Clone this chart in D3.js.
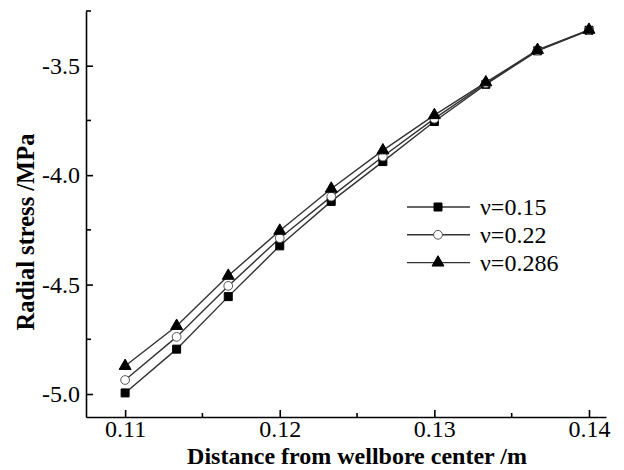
<!DOCTYPE html>
<html>
<head>
<meta charset="utf-8">
<script src="https://d3js.org/d3.v7.min.js"></script>
<style>
  body { margin: 0; background: #fff; }
  text { font-family: "Liberation Serif", "Times New Roman", serif; fill: #000; }
</style>
</head>
<body>
<div id="chart"></div>
<script>
var svgWidth = 624;
var svgHeight = 470;

var margin = { top: 11, right: 18, bottom: 53, left: 86 };
var width = svgWidth - margin.left - margin.right;
var height = svgHeight - margin.top - margin.bottom;

// data
var distance = [0.11, 0.11333, 0.11667, 0.12, 0.12333, 0.12667, 0.13, 0.13333, 0.13667, 0.14];
var stress015 = [-4.995, -4.795, -4.555, -4.323, -4.120, -3.938, -3.755, -3.585, -3.432, -3.338];
var stress022 = [-4.936, -4.739, -4.506, -4.288, -4.098, -3.915, -3.742, -3.580, -3.430, -3.337];
var stress0286 = [-4.872, -4.689, -4.460, -4.254, -4.062, -3.887, -3.726, -3.576, -3.428, -3.336];
var seriesNames = ["\u03bd=0.15", "\u03bd=0.22", "\u03bd=0.286"];
var xTicks = [0.11, 0.12, 0.13, 0.14];
var xMinor = [0.115, 0.125, 0.135];
var yTicks = [-5.0, -4.5, -4.0, -3.5];
var yMinor = [-4.75, -4.25, -3.75, -3.25];

var series = [
  { name: seriesNames[0], values: stress015, marker: "square" },
  { name: seriesNames[1], values: stress022, marker: "circle" },
  { name: seriesNames[2], values: stress0286, marker: "triangle" }
];

var svg = d3.select("#chart")
  .append("svg")
  .attr("width", svgWidth)
  .attr("height", svgHeight);

var chartGroup = svg.append("g")
  .attr("transform", `translate(${margin.left}, ${margin.top})`);

var xScale = d3.scaleLinear()
  .domain([0.10747, 0.1411])
  .range([0, width]);

var yScale = d3.scaleLinear()
  .domain([-5.105, -3.25])
  .range([height, 0]);

// axes, ticks pointing inward
var bottomAxis = d3.axisBottom(xScale)
  .tickValues(xTicks)
  .tickSizeInner(-7)
  .tickSizeOuter(0)
  .tickPadding(3)
  .tickFormat(d3.format(".2f"));

var leftAxis = d3.axisLeft(yScale)
  .tickValues(yTicks)
  .tickSizeInner(-7)
  .tickSizeOuter(0)
  .tickPadding(6)
  .tickFormat(d => d3.format(".1f")(d).replace("\u2212", "-"));

var xAxis = chartGroup.append("g")
  .attr("transform", `translate(0, ${height})`)
  .call(bottomAxis);

var yAxis = chartGroup.append("g")
  .call(leftAxis);

// minor ticks
xAxis.selectAll("line.minor")
  .data(xMinor)
  .enter()
  .append("line")
  .attr("class", "minor")
  .attr("x1", d => xScale(d))
  .attr("x2", d => xScale(d))
  .attr("y1", 0)
  .attr("y2", -4);

yAxis.selectAll("line.minor")
  .data(yMinor)
  .enter()
  .append("line")
  .attr("class", "minor")
  .attr("x1", 0)
  .attr("x2", 5)
  .attr("y1", d => yScale(d))
  .attr("y2", d => yScale(d));

chartGroup.selectAll(".domain, .tick line, line.minor")
  .attr("stroke", "#000")
  .attr("stroke-width", 1.6);

chartGroup.selectAll(".tick text")
  .style("font-size", "24px");

// marker drawing
var symbolFor = {
  square: d3.symbol().type(d3.symbolSquare).size(64),
  circle: d3.symbol().type(d3.symbolCircle).size(60),
  triangle: d3.symbol().type(d3.symbolTriangle).size(62)
};

function drawMarker(g, type) {
  g.append("path")
    .attr("d", symbolFor[type]())
    .attr("fill", type === "circle" ? "#fff" : "#000")
    .attr("stroke", type === "circle" ? "#555" : "#000")
    .attr("stroke-width", 1);
}

var line = d3.line()
  .x((d, i) => xScale(distance[i]))
  .y(d => yScale(d));

series.forEach(function(s) {
  chartGroup.append("path")
    .datum(s.values)
    .attr("fill", "none")
    .attr("stroke", "#333")
    .attr("stroke-width", 1.4)
    .attr("d", line);
});

series.forEach(function(s) {
  chartGroup.selectAll("g.m-" + s.marker)
    .data(s.values)
    .enter()
    .append("g")
    .attr("class", "m-" + s.marker)
    .attr("transform", (d, i) => `translate(${xScale(distance[i])}, ${yScale(d)})`)
    .each(function() { drawMarker(d3.select(this), s.marker); });
});

// legend
var legend = svg.append("g")
  .attr("transform", "translate(407, 207)");

series.forEach(function(s, i) {
  var row = legend.append("g")
    .attr("transform", `translate(0, ${i * 27.8})`);
  row.append("line")
    .attr("x1", 0)
    .attr("x2", 63)
    .attr("stroke", "#333")
    .attr("stroke-width", 1.4);
  drawMarker(row.append("g").attr("transform", "translate(31, 0)"), s.marker);
  row.append("text")
    .attr("x", 73)
    .attr("dy", "0.35em")
    .style("font-size", "24px")
    .text(s.name);
});

// axis titles
svg.append("text")
  .attr("x", 357)
  .attr("y", 464)
  .attr("text-anchor", "middle")
  .style("font-size", "24px")
  .style("font-weight", "bold")
  .text("Distance from wellbore center /m");

svg.append("text")
  .attr("transform", "rotate(-90)")
  .attr("x", -232)
  .attr("y", 34)
  .attr("text-anchor", "middle")
  .style("font-size", "24.5px")
  .style("font-weight", "bold")
  .text("Radial stress /MPa");
</script>
</body>
</html>
